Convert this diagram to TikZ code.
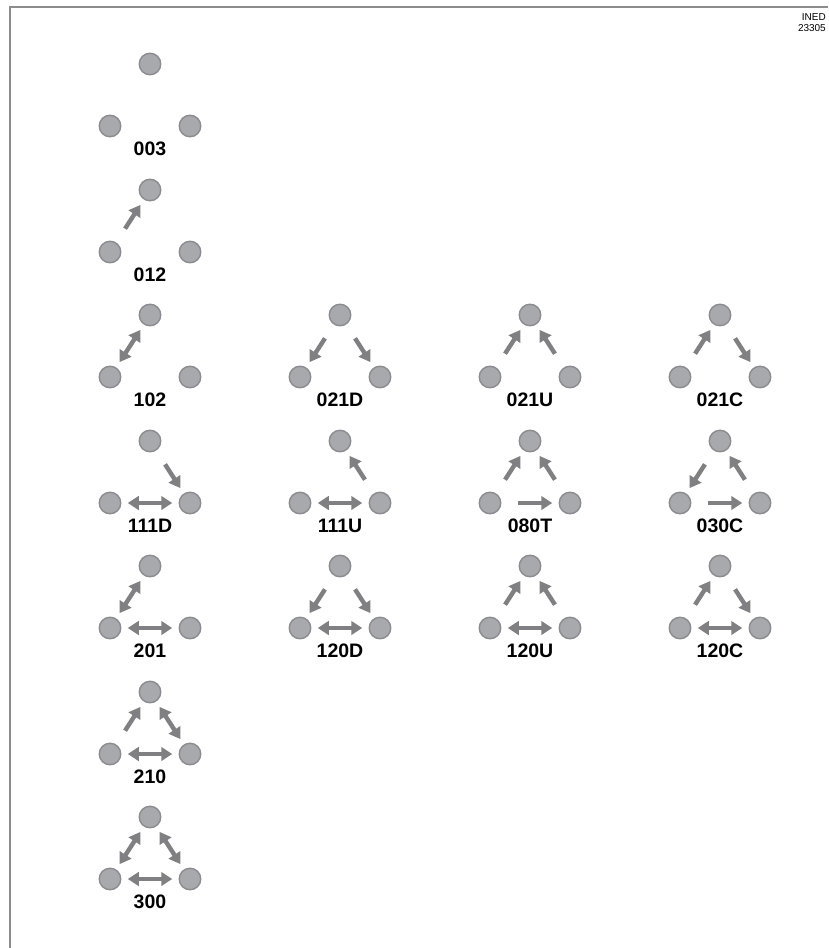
\documentclass[tikz,border=0pt]{standalone}
\usepackage{fontspec}
\setmainfont{Liberation Sans}
\usetikzlibrary{arrows.meta}

\definecolor{dotfill}{RGB}{167,169,172}
\definecolor{dotline}{RGB}{138,140,143}
\definecolor{tiegray}{RGB}{128,128,130}
\definecolor{framegray}{RGB}{140,140,140}

% one triad: name, x of apex, y of apex, code
\newcommand{\triad}[4]{%
  \node[actor] (#1-a) at (#2,#3) {};
  \node[actor] (#1-l) at (#2-40,#3+62) {};
  \node[actor] (#1-r) at (#2+40,#3+62) {};
  \node[code] (#1-c) at (#2,#3+85) {#4};
}

\begin{document}
\begin{tikzpicture}[
  x=1pt, y=-1pt,
  actor/.style={circle, draw=dotline, fill=dotfill, line width=1.4pt, minimum size=21.5pt, inner sep=0pt, outer sep=0pt},
  code/.style={font=\bfseries\fontsize{19.5}{19.5}\selectfont, inner sep=0pt},
  tie/.style={-{Triangle[length=11pt,width=13.5pt]}, line width=4.4pt, draw=tiegray, shorten <=17pt, shorten >=7pt},
  mutual/.style={{Triangle[length=11pt,width=13.5pt]}-{Triangle[length=11pt,width=13.5pt]}, line width=4.4pt, draw=tiegray, shorten <=7pt, shorten >=7pt}
]
\useasboundingbox (0,0) rectangle (828,948);
\draw[framegray, line width=2.4pt] (10,948) -- (10,7) -- (828,7);
\node[anchor=north east, align=right, font=\fontsize{10}{11}\selectfont, inner sep=0pt] (tag) at (826,13) {INED\\23305};

\triad{t003}{150}{64}{003}
\triad{t012}{150}{190}{012}
\triad{t102}{150}{315}{102}
\triad{t021D}{340}{315}{021D}
\triad{t021U}{530}{315}{021U}
\triad{t021C}{720}{315}{021C}
\triad{t111D}{150}{441}{111D}
\triad{t111U}{340}{441}{111U}
\triad{t030T}{530}{441}{080T}
\triad{t030C}{720}{441}{030C}
\triad{t201}{150}{566}{201}
\triad{t120D}{340}{566}{120D}
\triad{t120U}{530}{566}{120U}
\triad{t120C}{720}{566}{120C}
\triad{t210}{150}{692}{210}
\triad{t300}{150}{817}{300}

% ties
\draw[tie] (t012-l) -- (t012-a);
\draw[mutual] (t102-l) -- (t102-a);
\draw[tie] (t021D-a) -- (t021D-l);
\draw[tie] (t021D-a) -- (t021D-r);
\draw[tie] (t021U-l) -- (t021U-a);
\draw[tie] (t021U-r) -- (t021U-a);
\draw[tie] (t021C-l) -- (t021C-a);
\draw[tie] (t021C-a) -- (t021C-r);
\draw[tie] (t111D-a) -- (t111D-r);
\draw[mutual] (t111D-l) -- (t111D-r);
\draw[tie] (t111U-r) -- (t111U-a);
\draw[mutual] (t111U-l) -- (t111U-r);
\draw[tie] (t030T-l) -- (t030T-a);
\draw[tie] (t030T-r) -- (t030T-a);
\draw[tie] (t030T-l) -- (t030T-r);
\draw[tie] (t030C-a) -- (t030C-l);
\draw[tie] (t030C-r) -- (t030C-a);
\draw[tie] (t030C-l) -- (t030C-r);
\draw[mutual] (t201-l) -- (t201-a);
\draw[mutual] (t201-l) -- (t201-r);
\draw[tie] (t120D-a) -- (t120D-l);
\draw[tie] (t120D-a) -- (t120D-r);
\draw[mutual] (t120D-l) -- (t120D-r);
\draw[tie] (t120U-l) -- (t120U-a);
\draw[tie] (t120U-r) -- (t120U-a);
\draw[mutual] (t120U-l) -- (t120U-r);
\draw[tie] (t120C-l) -- (t120C-a);
\draw[tie] (t120C-a) -- (t120C-r);
\draw[mutual] (t120C-l) -- (t120C-r);
\draw[tie] (t210-l) -- (t210-a);
\draw[mutual] (t210-a) -- (t210-r);
\draw[mutual] (t210-l) -- (t210-r);
\draw[mutual] (t300-l) -- (t300-a);
\draw[mutual] (t300-a) -- (t300-r);
\draw[mutual] (t300-l) -- (t300-r);
\end{tikzpicture}
\end{document}
